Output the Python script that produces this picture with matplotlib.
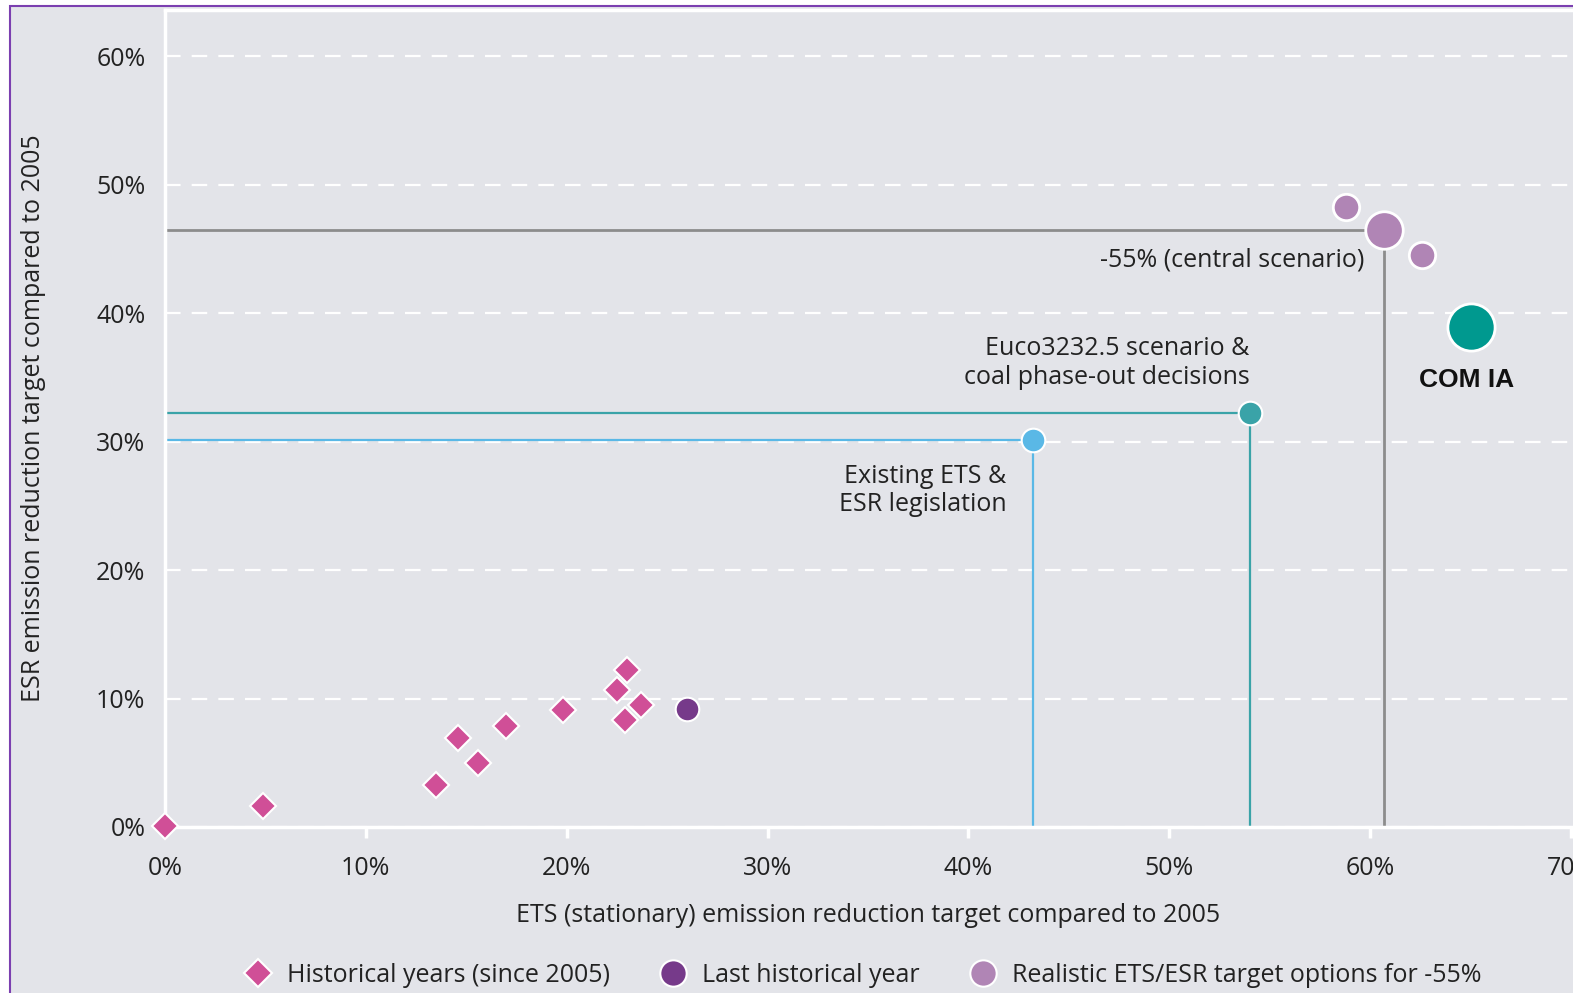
import matplotlib
matplotlib.use("Agg")
import matplotlib.pyplot as plt
from matplotlib.patches import Rectangle
from matplotlib.lines import Line2D
from matplotlib.ticker import FuncFormatter

# data (% reduction vs 2005)
hist_x = [0.0, 4.9, 13.5, 14.6, 15.6, 17.0, 19.8, 22.5, 23.0, 22.9, 23.7]
hist_y = [0.1, 1.6, 3.3, 6.9, 5.0, 7.9, 9.1, 10.7, 12.2, 8.3, 9.5]
last_x, last_y = 26.0, 9.2
opt_x = [58.8, 60.7, 62.6]
opt_y = [48.3, 46.5, 44.5]
opt_big = [False, True, False]
comia_x, comia_y = 65.0, 38.9
existing_x, existing_y = 43.2, 30.1
euco_x, euco_y = 54.0, 32.2

bg = "#e3e4e9"
pink = "#d04f97"
purple = "#763a8a"
lilac = "#b085b5"
teal = "#00998f"
teal2 = "#3aa3a8"
blue = "#5ab8e6"
grey = "#8c8c8c"
txt = "#222222"

plt.rcParams["font.family"] = ["Open Sans", "DejaVu Sans"]
plt.rcParams["font.size"] = 18

W, H = 1573, 993
fig = plt.figure(figsize=(W / 100, H / 100), dpi=100, facecolor="white")
fig.patches.append(Rectangle((10 / W, -0.1), 1.2, (H - 6) / H + 0.1, transform=fig.transFigure,
                             facecolor=bg, edgecolor="#7b3fb0", lw=1.5, zorder=-10))

ax = fig.add_axes([165 / W, (H - 827) / H, (1571 - 165) / W, (827 - 10) / H])
ax.set_facecolor(bg)
ax.set_xlim(0, 70)
ax.set_ylim(0, 63.6)

for s in ["left", "bottom", "top"]:
    ax.spines[s].set_color("white")
    ax.spines[s].set_linewidth(2.5)
ax.spines["right"].set_visible(False)

ax.set_xticks(range(0, 71, 10))
ax.set_yticks(range(0, 61, 10))
pct = FuncFormatter(lambda v, p: "%d%%" % v)
ax.xaxis.set_major_formatter(pct)
ax.yaxis.set_major_formatter(pct)
ax.tick_params(axis="x", colors="white", length=8, width=2.5, labelcolor=txt, pad=13, labelsize=18)
ax.tick_params(axis="y", length=0, labelcolor=txt, pad=14, labelsize=18)
ax.grid(axis="y", color="white", linestyle=(0, (7, 5)), linewidth=1.6)
ax.set_axisbelow(True)

ax.set_xlabel("ETS (stationary) emission reduction target compared to 2005", fontsize=18, labelpad=16, color=txt)
ax.set_ylabel("ESR emission reduction target compared to 2005", fontsize=18, labelpad=36, color=txt)

# guide lines
ax.plot([0, opt_x[1], opt_x[1]], [opt_y[1], opt_y[1], 0], color=grey, lw=2, zorder=2)
ax.plot([0, euco_x, euco_x], [euco_y, euco_y, 0], color=teal2, lw=1.6, zorder=2)
ax.plot([0, existing_x, existing_x], [existing_y, existing_y, 0], color=blue, lw=1.6, zorder=2)

# points
ax.plot(hist_x, hist_y, "D", color=pink, ms=13, mec="white", mew=1.5, ls="none", zorder=3, clip_on=False)
ax.plot(last_x, last_y, "o", color=purple, ms=17, mec="white", mew=1.5, zorder=3)
for x, y, b in zip(opt_x, opt_y, opt_big):
    ax.plot(x, y, "o", color=lilac, ms=27 if b else 19, mec="white", mew=2, zorder=4)
ax.plot(comia_x, comia_y, "o", color=teal, ms=34, mec="white", mew=2, zorder=4)
ax.plot(euco_x, euco_y, "o", color=teal2, ms=17, mec="white", mew=1.5, zorder=4)
ax.plot(existing_x, existing_y, "o", color=blue, ms=17, mec="white", mew=1.5, zorder=4)

# labels
ax.text(59.7, 44.1, "-55% (central scenario)", ha="right", va="center", fontsize=18, color=txt)
ax.text(54.0, 36.1, "Euco3232.5 scenario &\ncoal phase-out decisions", ha="right", va="center",
        fontsize=18, color=txt, linespacing=1.2)
ax.text(41.9, 26.2, "Existing ETS &\nESR legislation", ha="right", va="center",
        fontsize=18, color=txt, linespacing=1.2)
ax.text(64.8, 34.8, "COM IA", ha="center", va="center", fontsize=19, fontweight="bold",
        family="Liberation Sans", color="#111111")

handles = [
    Line2D([], [], marker="D", color=pink, ms=14, mec="white", mew=1.5, ls="none"),
    Line2D([], [], marker="o", color=purple, ms=19, mec="white", mew=1.5, ls="none"),
    Line2D([], [], marker="o", color=lilac, ms=19, mec="white", mew=1.5, ls="none"),
]
labels = ["Historical years (since 2005)", "Last historical year", "Realistic ETS/ESR target options for -55%"]
fig.legend(handles, labels, loc="center", bbox_to_anchor=(0.547, 0.018), ncol=3, frameon=False,
           fontsize=18, columnspacing=1.8, handletextpad=0.4, handlelength=1.5, labelcolor=txt)

fig.savefig("out.png", dpi=100, facecolor="white")
